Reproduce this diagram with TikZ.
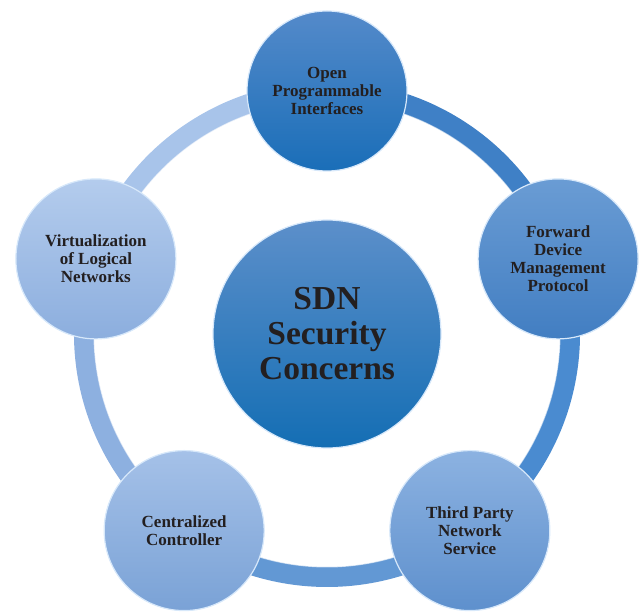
\documentclass[tikz,border=0pt]{standalone}
\usepackage{fontspec}
\setmainfont{Liberation Serif}
\definecolor{txt}{HTML}{231F20}
\definecolor{ringA}{HTML}{3F80C6}
\definecolor{ringB}{HTML}{4A8BD0}
\definecolor{ringC}{HTML}{6298D4}
\definecolor{ringD}{HTML}{8DB0E0}
\definecolor{ringE}{HTML}{A8C4EA}
\definecolor{sdnT}{RGB}{92,143,202}
\definecolor{sdnB}{RGB}{20,110,180}
\definecolor{openT}{RGB}{84,138,202}
\definecolor{openB}{RGB}{26,110,184}
\definecolor{fwdT}{RGB}{106,156,212}
\definecolor{fwdB}{RGB}{66,126,194}
\definecolor{thirdT}{RGB}{140,178,225}
\definecolor{thirdB}{RGB}{94,144,205}
\definecolor{ctrlT}{RGB}{165,193,232}
\definecolor{ctrlB}{RGB}{122,162,214}
\definecolor{virtT}{RGB}{180,204,237}
\definecolor{virtB}{RGB}{140,174,222}
\definecolor{rim}{RGB}{215,232,250}
\tikzset{
  topic/.style={circle, minimum size=160pt, inner sep=0pt, align=center, text=txt,
    font=\bfseries\fontsize{17}{18}\selectfont, draw=rim, line width=1.2pt},
  hub/.style={topic, minimum size=228pt, font=\bfseries\fontsize{33.5}{35}\selectfont},
  ringseg/.style={line width=20pt},
}
\begin{document}
\begin{tikzpicture}[x=1pt,y=1pt]
\useasboundingbox (0,0) rectangle (643,613);
\coordinate (o) at (327,279);

% ring
\coordinate (p1) at ([shift={(90:243)}]o);
\coordinate (p2) at ([shift={(18:243)}]o);
\coordinate (p3) at ([shift={(-54:243)}]o);
\coordinate (p4) at ([shift={(-126:243)}]o);
\coordinate (p5) at ([shift={(162:243)}]o);
\draw[ringseg, ringA] (p1) arc[start angle=90, end angle=18, radius=243pt];
\draw[ringseg, ringB] (p2) arc[start angle=18, end angle=-54, radius=243pt];
\draw[ringseg, ringC] (p3) arc[start angle=-54, end angle=-126, radius=243pt];
\draw[ringseg, ringD] (p4) arc[start angle=-126, end angle=-198, radius=243pt];
\draw[ringseg, ringE] (p5) arc[start angle=162, end angle=90, radius=243pt];
\draw[white, opacity=0.6, line width=1pt] (o) circle[radius=233pt];

\node[hub, top color=sdnT, bottom color=sdnB] (sdn) at (o) {SDN\\Security\\Concerns};

\node[topic, top color=openT, bottom color=openB] (open) at (p1) {Open\\Programmable\\Interfaces};
\node[topic, top color=fwdT, bottom color=fwdB] (fwd) at (p2) {Forward\\Device\\Management\\Protocol};
\node[topic, top color=thirdT, bottom color=thirdB] (third) at (p3) {Third Party\\Network\\Service};
\node[topic, top color=ctrlT, bottom color=ctrlB] (ctrl) at (p4) {Centralized\\Controller};
\node[topic, top color=virtT, bottom color=virtB] (virt) at (p5) {Virtualization\\of Logical\\Networks};
\end{tikzpicture}
\end{document}
